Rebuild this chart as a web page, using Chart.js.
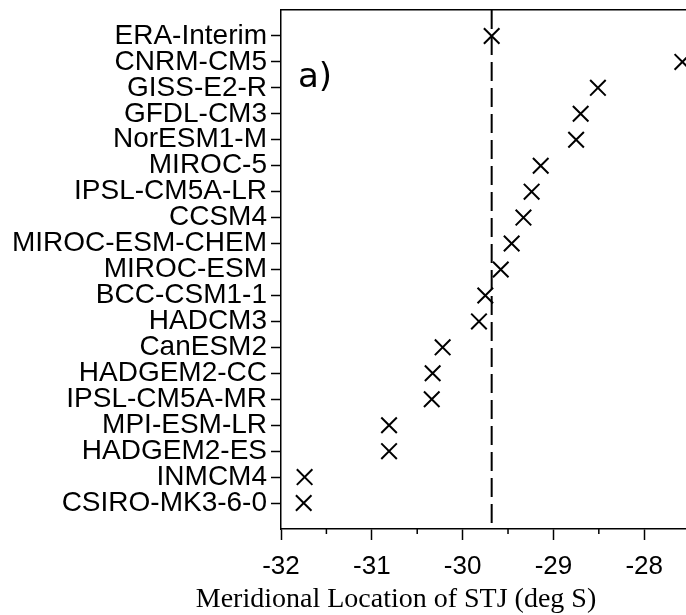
<!DOCTYPE html>
<html lang="en">
<head>
    <meta charset="UTF-8">
    <title>STJ location by model</title>
    <script src="https://cdn.jsdelivr.net/npm/chart.js"></script>
    <style>
        body { margin: 0; background: #fff; }
        .chart-box { position: relative; width: 686px; height: 615px; }
    </style>
</head>
<body>
    <div class="chart-box">
        <canvas id="stjChart"></canvas>
    </div>

    <script>
        // models, top to bottom
        const models = [
            'ERA-Interim', 'CNRM-CM5', 'GISS-E2-R', 'GFDL-CM3', 'NorESM1-M',
            'MIROC-5', 'IPSL-CM5A-LR', 'CCSM4', 'MIROC-ESM-CHEM', 'MIROC-ESM',
            'BCC-CSM1-1', 'HADCM3', 'CanESM2', 'HADGEM2-CC', 'IPSL-CM5A-MR',
            'MPI-ESM-LR', 'HADGEM2-ES', 'INMCM4', 'CSIRO-MK3-6-0'
        ];
        // meridional location of the STJ (deg S)
        const stjLat = [
            -29.68, -27.58, -28.51, -28.70, -28.75,
            -29.14, -29.24, -29.33, -29.46, -29.58,
            -29.75, -29.82, -30.22, -30.33, -30.34,
            -30.81, -30.81, -31.74, -31.75
        ];
        const xTicks = [-32, -31, -30, -29, -28];
        const xMinorTicks = [-31.5, -30.5, -29.5, -28.5];
        const xTitle = 'Meridional Location of STJ (deg S)';
        const panelLabel = 'a)';

        const reanalysis = stjLat[0];

        const points = models.map((m, i) => ({ x: stjLat[i], y: i }));

        // no extra room for labels hanging over the ends of an axis
        function noOverhang(scale) {
            scale.paddingLeft = 0;
            scale.paddingRight = 0;
            scale.paddingTop = 0;
            scale.paddingBottom = 0;
        }

        const extras = {
            id: 'extras',
            afterDraw(chart) {
                const ctx = chart.ctx;
                const area = chart.chartArea;
                const xs = chart.scales.x;
                ctx.save();
                // minor ticks
                ctx.strokeStyle = '#000';
                ctx.lineWidth = 1.5;
                ctx.beginPath();
                xMinorTicks.forEach(v => {
                    const px = xs.getPixelForValue(v);
                    ctx.moveTo(px, area.bottom);
                    ctx.lineTo(px, area.bottom + 5);
                });
                ctx.stroke();
                // panel label
                ctx.fillStyle = '#000';
                ctx.font = '34px "DejaVu Sans"';
                ctx.textAlign = 'left';
                ctx.textBaseline = 'alphabetic';
                ctx.fillText(panelLabel, area.left + 17, area.top + 77);
                // axis title
                ctx.font = '28px "Liberation Serif"';
                ctx.textAlign = 'center';
                ctx.fillText(xTitle, 396, 607);
                ctx.restore();
            }
        };

        new Chart(document.getElementById('stjChart'), {
            type: 'scatter',
            data: {
                datasets: [
                    {
                        data: points,
                        pointStyle: 'crossRot',
                        pointRadius: 11,
                        pointBorderWidth: 2,
                        borderColor: '#000',
                        backgroundColor: '#000',
                        showLine: false,
                        clip: false
                    },
                    {
                        data: [{ x: reanalysis, y: -1 }, { x: reanalysis, y: 19 }],
                        showLine: true,
                        borderColor: '#000',
                        borderWidth: 2,
                        borderDash: [19, 7],
                        pointRadius: 0
                    }
                ]
            },
            plugins: [extras],
            options: {
                responsive: true,
                maintainAspectRatio: false,
                animation: false,
                events: [],
                layout: { padding: 0, autoPadding: false },
                plugins: {
                    legend: { display: false },
                    tooltip: { enabled: false }
                },
                scales: {
                    x: {
                        type: 'linear',
                        position: 'bottom',
                        min: -32,
                        max: -27.54,
                        afterFit(scale) { scale.height = 86; noOverhang(scale); },
                        afterBuildTicks(scale) { scale.ticks = xTicks.map(v => ({ value: v })); },
                        grid: { drawOnChartArea: false, tickLength: 11, tickColor: '#000', tickWidth: 1.5 },
                        border: { color: '#000', width: 1.5 },
                        ticks: {
                            color: '#000',
                            padding: 11,
                            maxRotation: 0,
                            font: { family: '"Liberation Sans"', size: 26 },
                            callback: v => String(v)
                        }
                    },
                    x2: {
                        type: 'linear',
                        position: 'top',
                        min: -32,
                        max: -27.54,
                        afterFit(scale) { scale.height = 10; noOverhang(scale); },
                        grid: { drawOnChartArea: false, drawTicks: false },
                        border: { color: '#000', width: 1.5 },
                        ticks: { display: false }
                    },
                    y: {
                        type: 'linear',
                        position: 'left',
                        reverse: true,
                        min: -1,
                        max: 19,
                        afterFit(scale) { scale.width = 281; noOverhang(scale); },
                        afterBuildTicks(scale) { scale.ticks = models.map((m, i) => ({ value: i })); },
                        grid: { drawOnChartArea: false, tickLength: 10, tickColor: '#000', tickWidth: 1.5 },
                        border: { color: '#000', width: 1.5 },
                        ticks: {
                            color: '#000',
                            padding: 4,
                            autoSkip: false,
                            font: { family: '"Liberation Sans"', size: 28 },
                            callback: v => models[v] ?? ''
                        }
                    }
                }
            }
        });
    </script>
</body>
</html>
